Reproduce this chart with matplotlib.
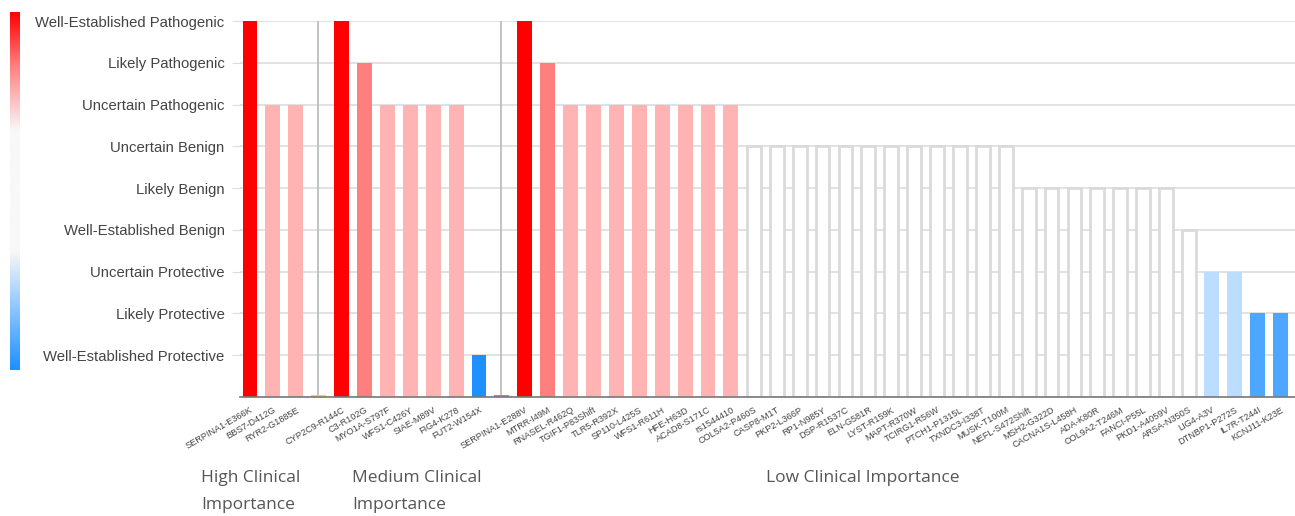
"""
Clinical significance of variants, grouped by clinical importance
"""

import numpy as np
import matplotlib.pyplot as plt
from matplotlib.colors import LinearSegmentedColormap

levels = ['Well-Established Protective', 'Likely Protective', 'Uncertain Protective',
          'Well-Established Benign', 'Likely Benign', 'Uncertain Benign',
          'Uncertain Pathogenic', 'Likely Pathogenic', 'Well-Established Pathogenic']

high_variants = ['SERPINA1-E366K', 'BBS7-D412G', 'RYR2-G1885E']
high_scores = [9, 7, 7]

medium_variants = ['CYP2C9-R144C', 'C3-R102G', 'MYO1A-S797F', 'WFS1-C426Y',
                   'SIAE-M89V', 'FIG4-K278', 'FUT2-W154X']
medium_scores = [9, 8, 7, 7, 7, 7, 1]

low_variants = ['SERPINA1-E288V', 'MTRR-I49M', 'RNASEL-R462Q', 'TGIF1-P83Shift',
                'TLR5-R392X', 'SP110-L425S', 'WFS1-R611H', 'HFE-H63D', 'ACAD8-S171C',
                'rs1544410', 'COL5A2-P460S', 'CASP8-M1T', 'PKP2-L366P', 'RP1-N985Y',
                'DSP-R1537C', 'ELN-G581R', 'LYST-R159K', 'MAPT-R370W', 'TCIRG1-R56W',
                'PTCH1-P1315L', 'TXNDC3-I338T', 'MUSK-T100M', 'NEFL-S472Shift',
                'MSH2-G322D', 'CACNA1S-L458H', 'ADA-K80R', 'COL9A2-T246M', 'FANCI-P55L',
                'PKD1-A4059V', 'ARSA-N350S', 'LIG4-A3V', 'DTNBP1-P272S', 'IL7R-T244I',
                'KCNJ11-K23E']
low_scores = [9, 8, 7, 7, 7, 7, 7, 7, 7, 7,
              6, 6, 6, 6, 6, 6, 6, 6, 6, 6, 6, 6,
              5, 5, 5, 5, 5, 5, 5,
              4, 3, 3, 2, 2]

group_names = ['High Clinical\nImportance', 'Medium Clinical\nImportance',
               'Low Clinical Importance']

# tiny marks sitting on the separators between groups
sep_heights = [0.05, 0.05]
sep_colors = ['#e8e020', '#e87070']

level_colors = {9: '#ff0000', 8: '#ff7f7f', 7: '#ffb3b3', 6: 'white', 5: 'white',
                4: 'white', 3: '#bbddff', 2: '#4da6ff', 1: '#1e90ff'}

groups = [(high_variants, high_scores), (medium_variants, medium_scores),
          (low_variants, low_scores)]

fig = plt.figure(figsize=(12.95, 5.16), dpi=100)
ax = fig.add_axes([240/1295, 119/516, 1055/1295, 376/516])

# horizontal grid
for lv in range(1, 10):
    ax.axhline(lv, color='#dddddd', lw=1.2, zorder=0)

pos = 0
names, ticks = [], []
sep_pos = []
for gi, (vars_, scores) in enumerate(groups):
    for name, s in zip(vars_, scores):
        c = level_colors[s]
        if c == 'white':
            ax.bar(pos, s, width=0.6, color='white', edgecolor='#dadada', lw=2, zorder=2)
        else:
            ax.bar(pos, s, width=0.65, color=c, edgecolor='none', zorder=2)
        names.append(name)
        ticks.append(pos)
        pos += 1
    if gi < len(groups) - 1:
        sep_pos.append(pos)
        pos += 1

for p, h, c in zip(sep_pos, sep_heights, sep_colors):
    ax.axvline(p - 0.05, color='#bdbdbd', lw=1.3, zorder=1)
    ax.bar(p, h, width=0.65, color=c, zorder=2)

ax.set_xlim(-0.437, 45.63)
ax.set_ylim(0, 9)

ax.set_xticks(ticks)
ax.set_xticklabels(names, rotation=30, ha='right', rotation_mode='anchor',
                   fontsize=6.6, color='#444444', family='Liberation Sans')
ax.tick_params(axis='x', length=0, pad=6)

ax.set_yticks(range(1, 10))
ax.set_yticklabels(levels, fontsize=10.7, color='#444444', family='Liberation Sans')
ax.tick_params(axis='y', length=6, color='#dddddd', pad=5)

for side in ['top', 'right', 'left']:
    ax.spines[side].set_visible(False)
ax.spines['bottom'].set_color('#777777')
ax.spines['bottom'].set_linewidth(1.2)

# colour legend strip on the left
cax = fig.add_axes([10/1295, 1 - 370/516, 10/1295, 358/516])
cmap = LinearSegmentedColormap.from_list(
    'clin', [(0, '#1e90ff'), (0.15, '#7fbfff'), (0.33, '#f8f8f8'),
             (0.67, '#f8f8f8'), (0.85, '#ff8080'), (1, '#ff0000')])
grad = np.linspace(0, 1, 256).reshape(-1, 1)
cax.imshow(grad, aspect='auto', cmap=cmap, origin='lower')
cax.set_axis_off()

# group titles under the axis
for gx, gname in zip([201, 352, 766], group_names):
    fig.text(gx/1295, 1 - 470/516, gname, fontsize=12.5, color='#555555',
             family='Open Sans', va='top', linespacing=1.9)

fig.savefig('out.png', dpi=100)
